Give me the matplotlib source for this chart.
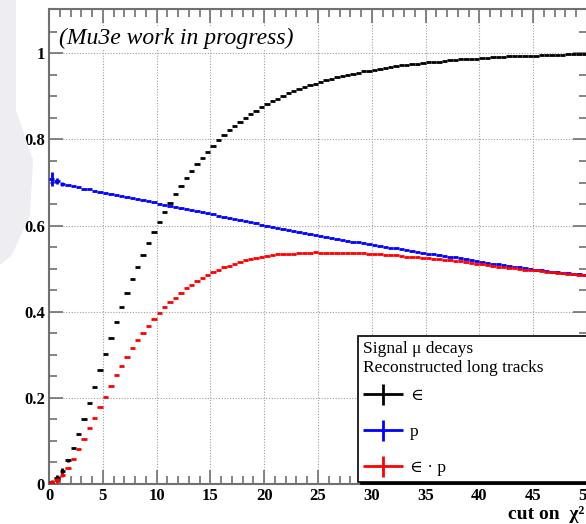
import numpy as np
import matplotlib.pyplot as plt
from matplotlib.container import ErrorbarContainer
from matplotlib.legend_handler import HandlerErrorbar
from matplotlib.patches import Polygon

plt.rcParams['font.family'] = ['Liberation Serif', 'DejaVu Serif']

# chi2 cut scan, 100 bins of width 0.5
bin_edges = np.linspace(0, 50, 101)

# efficiency
eff = [0.005, 0.013, 0.030, 0.055, 0.083, 0.117, 0.151, 0.188, 0.226, 0.264,
       0.301, 0.339, 0.376, 0.410, 0.443, 0.475, 0.505, 0.532, 0.559, 0.585,
       0.609, 0.632, 0.653, 0.673, 0.692, 0.710, 0.727, 0.743, 0.758, 0.772,
       0.786, 0.798, 0.810, 0.821, 0.831, 0.841, 0.850, 0.859, 0.867, 0.875,
       0.882, 0.889, 0.895, 0.901, 0.907, 0.912, 0.917, 0.922, 0.926, 0.930,
       0.934, 0.938, 0.941, 0.944, 0.947, 0.950, 0.953, 0.955, 0.958, 0.960,
       0.962, 0.964, 0.966, 0.968, 0.970, 0.972, 0.973, 0.975, 0.976, 0.978,
       0.979, 0.980, 0.981, 0.982, 0.984, 0.985, 0.986, 0.987, 0.987, 0.988,
       0.989, 0.990, 0.991, 0.991, 0.992, 0.993, 0.993, 0.994, 0.994, 0.995,
       0.995, 0.996, 0.996, 0.997, 0.997, 0.997, 0.998, 0.998, 0.998, 0.999]

# purity
pur = [0.708, 0.703, 0.697, 0.694, 0.691, 0.689, 0.686, 0.684, 0.680, 0.677,
       0.675, 0.673, 0.670, 0.668, 0.666, 0.663, 0.661, 0.659, 0.656, 0.654,
       0.651, 0.649, 0.646, 0.644, 0.641, 0.639, 0.636, 0.634, 0.631, 0.629,
       0.626, 0.623, 0.621, 0.618, 0.616, 0.613, 0.610, 0.608, 0.605, 0.602,
       0.600, 0.597, 0.595, 0.592, 0.590, 0.587, 0.585, 0.582, 0.580, 0.578,
       0.575, 0.573, 0.571, 0.569, 0.567, 0.565, 0.563, 0.561, 0.559, 0.557,
       0.555, 0.553, 0.551, 0.549, 0.547, 0.545, 0.543, 0.541, 0.539, 0.537,
       0.535, 0.533, 0.532, 0.530, 0.528, 0.526, 0.524, 0.522, 0.520, 0.518,
       0.516, 0.514, 0.512, 0.510, 0.508, 0.506, 0.505, 0.503, 0.501, 0.499,
       0.498, 0.496, 0.495, 0.493, 0.492, 0.490, 0.489, 0.488, 0.487, 0.486]

# efficiency x purity
eff_pur = [0.004, 0.009, 0.021, 0.038, 0.057, 0.081, 0.104, 0.129, 0.154, 0.179,
           0.203, 0.228, 0.252, 0.274, 0.295, 0.315, 0.334, 0.351, 0.367, 0.383,
           0.396, 0.410, 0.422, 0.433, 0.444, 0.454, 0.462, 0.471, 0.478, 0.486,
           0.492, 0.497, 0.503, 0.507, 0.512, 0.516, 0.519, 0.522, 0.525, 0.527,
           0.529, 0.531, 0.533, 0.533, 0.535, 0.535, 0.536, 0.537, 0.537, 0.538,
           0.537, 0.537, 0.537, 0.537, 0.537, 0.537, 0.537, 0.536, 0.536, 0.535,
           0.534, 0.533, 0.532, 0.531, 0.531, 0.530, 0.528, 0.527, 0.526, 0.525,
           0.524, 0.522, 0.522, 0.520, 0.520, 0.518, 0.517, 0.515, 0.513, 0.512,
           0.510, 0.509, 0.507, 0.505, 0.504, 0.502, 0.501, 0.500, 0.498, 0.497,
           0.496, 0.494, 0.493, 0.492, 0.491, 0.489, 0.488, 0.487, 0.486, 0.486]

# statistical errors, only visible in the first bins
eff_err = [0.004, 0.008, 0.006, 0.004]
pur_err = [0.016, 0.007, 0.004]
eff_pur_err = [0.003, 0.006, 0.004]

labels = ['∈', 'p', '∈ · p']
colors = ['black', 'blue', 'red']

W, H = 586, 524
fig = plt.figure(figsize=(W / 100, H / 100), dpi=100)

# light slide background at the left
bg = Polygon([(0, 1), (16 / W, 1), (16 / W, 1 - 110 / H), (33 / W, 1 - 160 / H),
              (30 / W, 1 - 215 / H), (12 / W, 1 - 255 / H), (0, 1 - 265 / H)],
             closed=True, transform=fig.transFigure, facecolor='#eeeef2',
             edgecolor='none', zorder=0)
fig.patches.append(bg)

ax = fig.add_axes([49 / W, 40 / H, 538 / W, 475 / H])

centers = 0.5 * (bin_edges[:-1] + bin_edges[1:])
half_w = 0.5 * np.diff(bin_edges)
for vals, errs, col, lab in zip([eff, pur, eff_pur], [eff_err, pur_err, eff_pur_err], colors, labels):
    yerr = np.zeros(len(vals))
    yerr[:len(errs)] = errs
    ax.errorbar(centers, vals, xerr=half_w, yerr=yerr, fmt='none', ecolor=col,
                elinewidth=2.0, capsize=0, label=lab, zorder=3)

ax.set_xlim(0, 50)
ax.set_ylim(0, 1.103)
ax.set_xticks(np.arange(0, 51, 5))
ax.set_xticks(np.arange(0, 51, 1), minor=True)
ax.set_yticks([0, 0.2, 0.4, 0.6, 0.8, 1.0])
ax.set_yticklabels(['0', '0.2', '0.4', '0.6', '0.8', '1'])
ax.set_yticks(np.arange(0, 1.1, 0.05), minor=True)
ax.tick_params(which='both', direction='in', top=True, right=True, color='#707070',
               width=1.2, labelsize=12, pad=3)
ax.tick_params(which='major', length=10)
ax.tick_params(which='minor', length=5.5)
for lbl in ax.get_xticklabels() + ax.get_yticklabels():
    lbl.set_fontweight('bold')
for sp in ax.spines.values():
    sp.set_color('#707070')
    sp.set_linewidth(1.5)

ax.grid(True, which='major', color='#a0a0a0', linestyle=(0, (1, 1.5)), linewidth=0.8)

ax.text(59 / W, 1 - 38 / H, '(Mu3e work in progress)', transform=fig.transFigure,
        style='italic', fontsize=17, ha='left', va='center', zorder=6,
        bbox=dict(facecolor='white', edgecolor='none', pad=1))

ax.set_xlabel('cut on  χ²', loc='right', fontweight='bold', fontsize=14, labelpad=1)
ax.xaxis.label.set_x(0.996)

leg = ax.legend(loc='upper left', bbox_to_anchor=(358 / W, 40 / H, 260 / W, 148 / H),
                bbox_transform=fig.transFigure, mode='expand',
                title='Signal μ decays\nReconstructed long tracks', alignment='left',
                fontsize=12.5, title_fontsize=12.5, fancybox=False, edgecolor='black',
                framealpha=1, borderpad=0.3, labelspacing=1.15, handlelength=2.3,
                handletextpad=0.4, borderaxespad=0,
                shadow={'ox': 2, 'oy': -2, 'color': 'black', 'alpha': 1},
                handler_map={ErrorbarContainer: HandlerErrorbar(xerr_size=1.15, yerr_size=0.6)})
leg.get_frame().set_linewidth(1.2)
leg._legend_box.sep = 9

fig.savefig('out.png', dpi=100)
